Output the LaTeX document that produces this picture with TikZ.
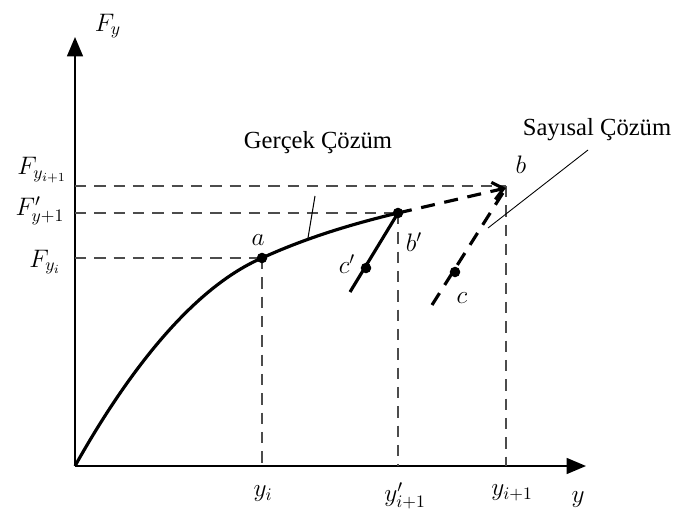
\documentclass[tikz,border=0pt]{standalone}
\usepackage{fontspec}
\setmainfont{Liberation Serif}
\usetikzlibrary{arrows.meta}

\tikzset{
  guide/.style={dash pattern=on 6.5pt off 4.5pt, line width=0.7pt, black!70},
  numstep/.style={dash pattern=on 8pt off 5.5pt, line width=1.8pt},
  lbl/.style={font=\Large}
}

\begin{document}
\begin{tikzpicture}[x=0.02cm, y=0.02cm]
  \useasboundingbox (0,0) rectangle (685,514);

  % Axes
  \coordinate (O) at (75,48);
  \coordinate (Ytop) at (75,477);
  \coordinate (Xend) at (586,48);
  \draw[line width=1.1pt, -{Triangle[length=11pt,width=9pt]}] (O) -- (Ytop);
  \draw[line width=1.1pt, -{Triangle[length=11pt,width=9pt]}] (O) -- (Xend);

  % Points
  \coordinate (a) at (262,256);
  \coordinate (bp) at (398,301);
  \coordinate (b) at (506,326);
  \coordinate (cp) at (366,246);
  \coordinate (c) at (455,242);
  \coordinate (cps) at (350,222);
  \coordinate (cs) at (432,209);

  % Guide lines
  \coordinate (Fi) at (75,256);
  \coordinate (Fp) at (75,301);
  \coordinate (Fn) at (75,328);
  \coordinate (bn) at (506,328);
  \coordinate (ya) at (262,48);
  \coordinate (yp) at (398,48);
  \coordinate (yn) at (506,48);
  \draw[guide] (Fi) -- (a);
  \draw[guide] (Fp) -- (bp);
  \draw[guide] (Fn) -- (bn);
  \draw[guide] (a) -- (ya);
  \draw[guide] (bp) -- (yp);
  \draw[guide] (bn) -- (yn);

  % Exact solution curve
  \draw[line width=1.8pt] (O) .. controls (122,132) and (188,224) .. (a)
    .. controls (310,278) and (360,292) .. (bp);

  % Slopes
  \draw[line width=1.8pt] (cps) -- (bp);
  \draw[numstep, -{Straight Barb[length=6pt,width=10pt]}] (bp) -- (b);
  \draw[numstep] (cs) -- (b);

  % Mark points
  \fill (a) circle (3pt);
  \fill (bp) circle (3pt);
  \fill (cp) circle (3pt);
  \fill (c) circle (3pt);

  % Leaders
  \coordinate (gtop) at (315,318);
  \coordinate (gbot) at (308,276);
  \coordinate (stop) at (588,364);
  \coordinate (sbot) at (488,286);
  \draw[line width=0.6pt] (gtop) -- (gbot);
  \draw[line width=0.5pt] (stop) -- (sbot);

  % Texts
  \node[font=\fontsize{14}{16}\selectfont] (gercek) at (318,371) {Gerçek Çözüm};
  \node[font=\fontsize{14}{16}\selectfont] (sayisal) at (597,384) {Sayısal Çözüm};

  % Labels
  \node[lbl] (la) at (258,274) {$a$};
  \node[lbl] (lbp) at (414,272) {$b'$};
  \node[lbl] (lb) at (521,349) {$b$};
  \node[lbl] (lcp) at (347,250) {$c'$};
  \node[lbl] (lc) at (462,216) {$c$};
  \node[lbl] (lyi) at (263,20) {$y_i$};
  \node[lbl] (lypi) at (405,18) {$y'_{i+1}$};
  \node[lbl] (lyni) at (512,21) {$y_{i+1}$};
  \node[lbl] (ly) at (578,14) {$y$};
  \node[lbl] (lFy) at (108,488) {$F_y$};
  \node[lbl] (lFn) at (42,344) {$F_{y_{i+1}}$};
  \node[lbl] (lFp) at (40,303) {$F'_{y+1}$};
  \node[lbl] (lFi) at (45,252) {$F_{y_i}$};

\end{tikzpicture}
\end{document}
